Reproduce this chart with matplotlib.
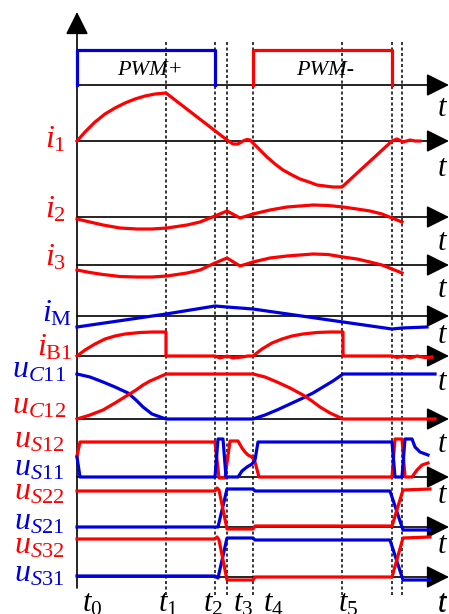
import matplotlib
matplotlib.use("Agg")
import matplotlib.pyplot as plt

plt.rcParams['mathtext.fontset'] = 'custom'
plt.rcParams['mathtext.rm'] = 'Liberation Serif'
plt.rcParams['mathtext.it'] = 'Liberation Serif:italic'
plt.rcParams['font.family'] = ['Liberation Serif', 'DejaVu Serif']

RED = '#ff0000'
BLUE = '#0000dd'

# switching instants (drawing units, left axis at 77)
t_marks = [166, 215, 227, 253, 342, 392, 402]
t_names = ['$t_0$', '$t_1$', '$t_2$', '$t_3$', '$t_4$', '$t_5$', '$t$']
t_name_x = [82, 158, 203, 233, 263, 338, 437]

# baselines of each time axis
axis_y = [85, 141, 217, 265, 316, 356, 419, 477, 527, 577]
axis_t_y = [116, 176, 250, 297, 343, 390, 452, 503, 553, 612]

# PWM gate pulses
pwm_pos_x = [77, 77, 215, 215]
pwm_pos_y = [85, 50, 50, 85]
pwm_neg_x = [253, 253, 392, 392]
pwm_neg_y = [85, 50, 50, 85]

i1_x = [77, 85, 95, 105, 115, 125, 135, 145, 155, 166, 227, 233, 238, 243, 247, 250,
        253, 260, 267, 275, 283, 292, 300, 309, 317, 325, 333, 342, 392, 397, 403, 410, 415, 420]
i1_y = [141, 132, 122, 114, 108, 103, 99, 96, 94, 93, 140, 144, 144, 141, 139.5, 140,
        143, 150, 157, 164, 170, 175, 179, 182, 185, 186, 187, 187, 141, 139, 142, 140, 141, 141]

i2_x = [77, 90, 103, 120, 137, 152, 167, 187, 200, 215, 227, 240, 253, 270, 287, 300, 313,
        328, 343, 357, 370, 382, 392, 402]
i2_y = [219, 222, 225, 228, 229, 229, 228, 225, 222, 216, 211, 218, 214, 210, 207, 206, 205,
        205.5, 207, 209, 211, 214, 218, 222]

i3_x = i2_x
i3_y = [270, 272.5, 274.5, 276.5, 277, 277, 276, 273, 270, 263, 258, 266, 262, 258, 256, 255,
        254, 254.5, 257, 259, 262, 265, 269, 273]

iM_x = [77, 166, 215, 227, 253, 343, 392, 402, 427]
iM_y = [327, 314, 306, 307, 309, 322, 329, 328, 327]

iB1_x = [77, 85, 95, 105, 115, 125, 140, 153, 166, 166, 215, 220, 227, 233, 242, 248,
         253, 262, 272, 282, 292, 303, 317, 330, 343, 343, 392, 397, 403, 410, 417, 425, 432]
iB1_y = [356, 350, 344, 339, 336, 334, 332.5, 332, 332, 356, 356, 358, 356, 358, 357, 356,
         356, 349, 343, 339, 336, 334, 332.5, 332, 332, 356, 356, 357.5, 356, 358, 356, 357.5, 357]

uC11_x = [77, 90, 103, 115, 128, 136, 143, 152, 166, 253, 265, 277, 290, 303, 313, 323, 333, 343, 435]
uC11_y = [374, 377, 382, 387, 393, 400, 407, 414, 419, 419, 415, 410, 404, 398, 393, 387, 381, 374, 374]
uC12_x = [77, 90, 103, 115, 128, 136, 143, 150, 157, 166, 253, 265, 277, 290, 303, 312, 320, 330, 343, 435]
uC12_y = [419, 415, 410, 403, 395, 390, 385, 381, 378, 374, 374, 377, 382, 388, 395, 401, 407, 413, 419, 419]

uS12_x = [77, 80, 215, 219, 225, 230, 238, 242, 245, 248, 252, 255, 259, 392, 395, 402, 405,
          412, 417, 422, 428]
uS12_y = [456, 442, 442, 478, 478, 441, 441, 448, 452, 455, 457, 462, 477, 477, 439, 439, 477,
          477, 470, 465, 463]
uS11_x = [77, 80, 215, 218, 223, 226, 238, 242, 247, 252, 255, 258, 392, 395, 402, 405, 412,
          415, 420, 428]
uS11_y = [457, 477, 477, 439, 439, 477, 477, 471, 467, 464, 460, 442, 442, 477, 477, 439, 439,
          447, 452, 455]

uS22_x = [77, 215, 217, 219, 227, 253, 255, 392, 403, 430]
uS22_y = [491, 491, 488, 490, 529, 529, 526, 526, 490, 489]
uS21_x = [77, 215, 218, 227, 253, 255, 390, 403, 430]
uS21_y = [527, 527, 527, 489, 489, 491, 491, 530, 530]

uS32_x = [77, 215, 217, 219, 227, 253, 255, 392, 403, 430]
uS32_y = [539, 539, 537, 540, 580, 580, 577, 577, 538, 537]
uS31_x = [77, 215, 218, 227, 253, 255, 390, 403, 430]
uS31_y = [576, 576, 578, 538, 538, 540, 540, 580, 580]

labels = ['$i_1$', '$i_2$', '$i_3$', r'$i_{\mathrm{M}}$', r'$i_{\mathrm{B1}}$',
          '$u_{C11}$', '$u_{C12}$', '$u_{S12}$', '$u_{S11}$', '$u_{S22}$',
          '$u_{S21}$', '$u_{S32}$', '$u_{S31}$']
label_x = [45, 45, 45, 42, 37, 12, 12, 14, 14, 14, 14, 14, 14]
label_y = [147, 217, 265, 322, 355, 377, 413, 447, 475, 500, 530, 553, 582]
label_c = [RED, RED, RED, BLUE, RED, BLUE, RED, RED, BLUE, RED, BLUE, RED, BLUE]

fig = plt.figure(figsize=(4.49, 6.14), dpi=100)
ax = fig.add_axes([0, 0, 1, 1])
ax.set_xlim(0, 449)
ax.set_ylim(614, 0)
ax.axis('off')

# dotted switching instants
for x in t_marks:
    ax.plot([x, x], [42, 595], color='k', lw=1.1, ls=(0, (2, 1.6)), zorder=1)

# axes with arrow heads
arr = dict(arrowstyle='-|>,head_length=1.0,head_width=0.5', color='k', lw=1.2,
           shrinkA=0, shrinkB=0, mutation_scale=14)
ax.annotate('', xy=(77, 12), xytext=(77, 588), arrowprops=arr, zorder=2)
for y in axis_y:
    ax.annotate('', xy=(449, y), xytext=(77, y), arrowprops=arr, zorder=2)
for y in axis_t_y:
    ax.text(437, y, '$t$', fontsize=22, va='baseline', ha='left')

lw = 2.3
ax.plot(pwm_pos_x, pwm_pos_y, color=BLUE, lw=lw, zorder=3)
ax.plot(pwm_neg_x, pwm_neg_y, color=RED, lw=lw, zorder=3)
ax.text(150, 75, 'PWM+', fontsize=16, style='italic', ha='center', va='baseline')
ax.text(325, 75, 'PWM-', fontsize=16, style='italic', ha='center', va='baseline')

ax.plot(i1_x, i1_y, color=RED, lw=lw, zorder=3)
ax.plot(i2_x, i2_y, color=RED, lw=lw, zorder=3)
ax.plot(i3_x, i3_y, color=RED, lw=lw, zorder=3)
ax.plot(iM_x, iM_y, color=BLUE, lw=lw, zorder=3)
ax.plot(iB1_x, iB1_y, color=RED, lw=lw, zorder=3)
ax.plot(uC11_x, uC11_y, color=BLUE, lw=lw, zorder=3)
ax.plot(uC12_x, uC12_y, color=RED, lw=lw, zorder=3)
ax.plot(uS12_x, uS12_y, color=RED, lw=lw, zorder=3)
ax.plot(uS11_x, uS11_y, color=BLUE, lw=lw, zorder=3)
ax.plot(uS21_x, uS21_y, color=BLUE, lw=lw, zorder=3)
ax.plot(uS22_x, uS22_y, color=RED, lw=lw, zorder=3)
ax.plot(uS31_x, uS31_y, color=BLUE, lw=lw, zorder=3)
ax.plot(uS32_x, uS32_y, color=RED, lw=lw, zorder=3)

for s, x, y, c in zip(labels, label_x, label_y, label_c):
    ax.text(x, y, s, fontsize=23, color=c, va='baseline', ha='left')

for s, x in zip(t_names, t_name_x):
    ax.text(x, 611, s, fontsize=22, va='baseline', ha='left')

fig.savefig('out.png', dpi=100)
